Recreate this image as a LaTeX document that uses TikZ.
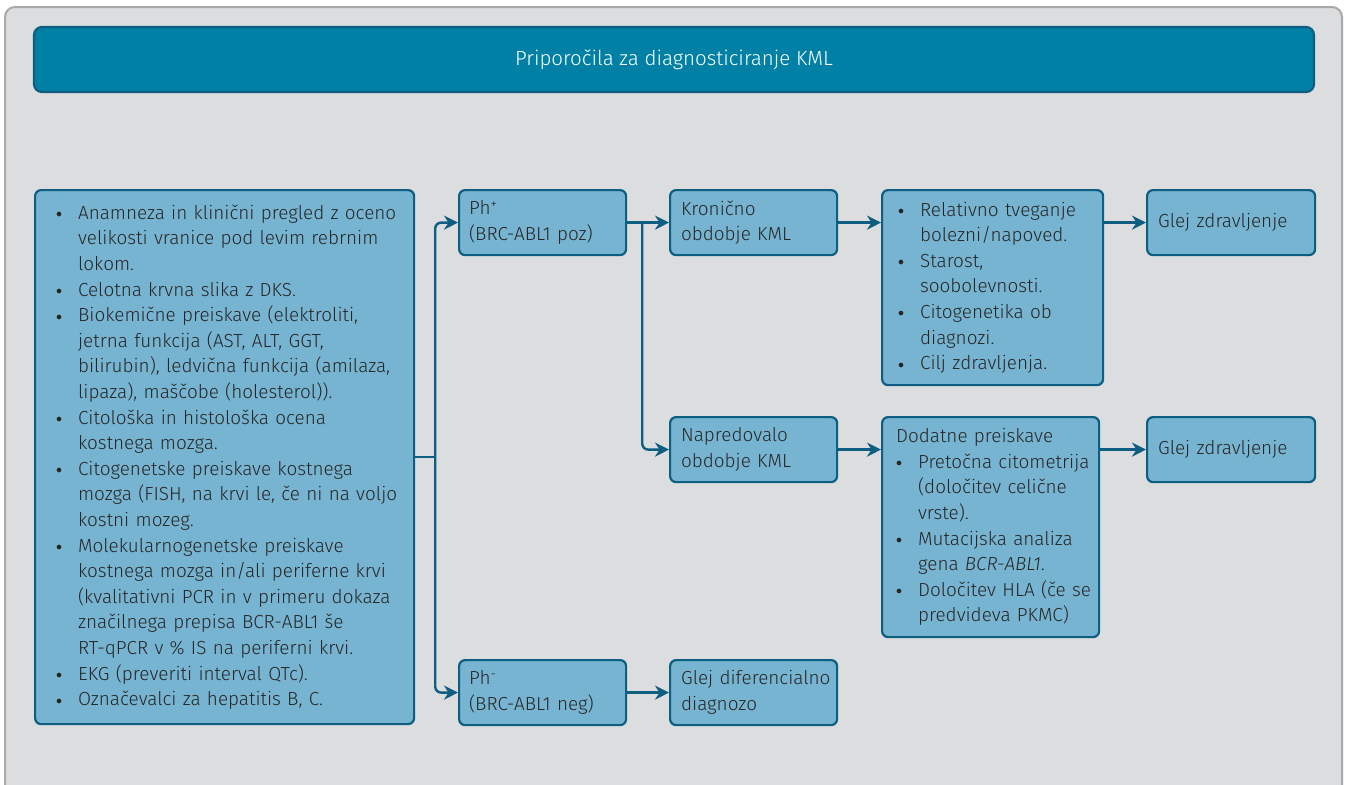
\documentclass[tikz,border=0pt]{standalone}
\usepackage{fontspec}
\setmainfont{Fira Sans}[UprightFont={* Light},ItalicFont={* Light Italic}]
\usetikzlibrary{calc,arrows.meta}
\definecolor{bggray}{HTML}{DCDDDF}
\definecolor{framegray}{HTML}{A9A9A9}
\definecolor{titleblue}{HTML}{0080A5}
\definecolor{boxblue}{HTML}{77B4D1}
\definecolor{edgeblue}{HTML}{0D5E80}
\definecolor{txtgray}{HTML}{262626}
\newcommand{\dotb}{\makebox[22pt][l]{\raisebox{.15ex}{\fontsize{12}{12}\selectfont$\bullet$}}}
\newcommand{\itm}[1]{\dotb\mbox{#1}}
\newcommand{\cnt}[1]{\hspace*{22pt}\mbox{#1}}

\begin{document}
\begin{tikzpicture}[x=1pt,y=-1pt,
	box/.style={draw=edgeblue, fill=boxblue, line width=2.2pt, rounded corners=6pt, anchor=north west, align=left, text=txtgray, inner ysep=0pt, font=\fontsize{18.9}{25.6}\selectfont},
	conn/.style={draw=edgeblue, line width=2.4pt, rounded corners=6pt},
	arr/.style={conn, -{Stealth[length=14pt,width=14pt]}}]
		\useasboundingbox (0,0) rectangle (1345,785);
		\draw[draw=framegray, fill=bggray, line width=2pt, rounded corners=10pt] (5,7) rectangle (1342,810);%panel
		
		\node[box, fill=titleblue, draw=edgeblue, text=white, anchor=center, minimum width=1280pt, minimum height=65pt, rounded corners=8pt, font=\fontsize{20.5}{25}\selectfont] (title) at (674,59.5) {Priporočila za diagnosticiranje KML};
		
		\node[box, text width=337pt, inner xsep=21pt, minimum height=534pt] (exams) at (34,189) {%
			\itm{Anamneza in klinični pregled z oceno}\\
			\cnt{velikosti vranice pod levim rebrnim}\\
			\cnt{lokom.}\\
			\itm{Celotna krvna slika z DKS.}\\
			\itm{Biokemične preiskave (elektroliti,}\\
			\cnt{jetrna funkcija (AST, ALT, GGT,}\\
			\cnt{bilirubin), ledvična funkcija (amilaza,}\\
			\cnt{lipaza), maščobe (holesterol)).}\\
			\itm{Citološka in histološka ocena}\\
			\cnt{kostnega mozga.}\\
			\itm{Citogenetske preiskave kostnega}\\
			\cnt{mozga (FISH, na krvi le, če ni na voljo}\\
			\cnt{kostni mozeg.}\\
			\itm{Molekularnogenetske preiskave}\\
			\cnt{kostnega mozga in/ali periferne krvi}\\
			\cnt{(kvalitativni PCR in v primeru dokaza}\\
			\cnt{značilnega prepisa BCR-ABL1 še}\\
			\cnt{RT-qPCR v \% IS na periferni krvi.}\\
			\itm{EKG (preveriti interval QTc).}\\
			\itm{Označevalci za hepatitis B, C.}};
		
		\node[box, text width=147pt, inner xsep=10pt, minimum height=65pt] (phpos) at (458,189) {Ph\textsuperscript{+}\\\mbox{(BRC-ABL1 poz)}};
		\node[box, text width=147pt, inner xsep=10pt, minimum height=65pt] (phneg) at (458,659) {Ph\textsuperscript{-}\\\mbox{(BRC-ABL1 neg)}};
		
		\node[box, text width=145pt, inner xsep=11pt, minimum height=65pt] (chronic) at (669,189) {Kronično\\\mbox{obdobje KML}};
		\node[box, text width=145pt, inner xsep=11pt, minimum height=65pt] (advanced) at (669,416) {Napredovalo\\\mbox{obdobje KML}};
		\node[box, text width=145pt, inner xsep=11pt, minimum height=65pt] (diff) at (669,659) {\mbox{Glej diferencialno}\\diagnozo};
		
		\node[box, text width=189pt, inner xsep=16pt, minimum height=195pt] (risk) at (881,189) {%
			\itm{Relativno tveganje}\\
			\cnt{bolezni/napoved.}\\
			\itm{Starost,}\\
			\cnt{soobolevnosti.}\\
			\itm{Citogenetika ob}\\
			\cnt{diagnozi.}\\
			\itm{Cilj zdravljenja.}};
		\node[box, text width=189pt, inner xsep=14pt, minimum height=220pt] (extra) at (881,416) {%
			\mbox{Dodatne preiskave}\\
			\itm{Pretočna citometrija}\\
			\cnt{(določitev celične}\\
			\cnt{vrste).}\\
			\itm{Mutacijska analiza}\\
			\cnt{gena \textit{BCR-ABL1}.}\\
			\itm{Določitev HLA (če se}\\
			\cnt{predvideva PKMC)}};
		
		\node[box, text width=146pt, inner xsep=11pt, minimum height=65pt] (treatA) at (1146,189) {\mbox{Glej zdravljenje}};
		\node[box, text width=146pt, inner xsep=11pt, minimum height=65pt] (treatB) at (1146,416) {\mbox{Glej zdravljenje}};
		
		%connectors
		\coordinate (fork) at ($(exams.east)+(20,0)$);
		\coordinate (forkB) at ($(phpos.east)+(15,0)$);
		\draw[conn] (exams.east) -- (fork);
		\draw[arr] (fork) |- (phpos.west);
		\draw[arr] (fork) |- (phneg.west);
		\draw[arr] (phpos.east) -- (chronic.west);
		\draw[arr] (forkB) |- (advanced.west);
		\draw[arr] (phneg.east) -- (diff.west);
		\draw[arr] (chronic.east) -- (chronic.east -| risk.west);
		\draw[arr] (advanced.east) -- (advanced.east -| extra.west);
		\draw[arr] (treatA.west -| risk.east) -- (treatA.west);
		\draw[arr] (treatB.west -| extra.east) -- (treatB.west);
\end{tikzpicture}
\end{document}
